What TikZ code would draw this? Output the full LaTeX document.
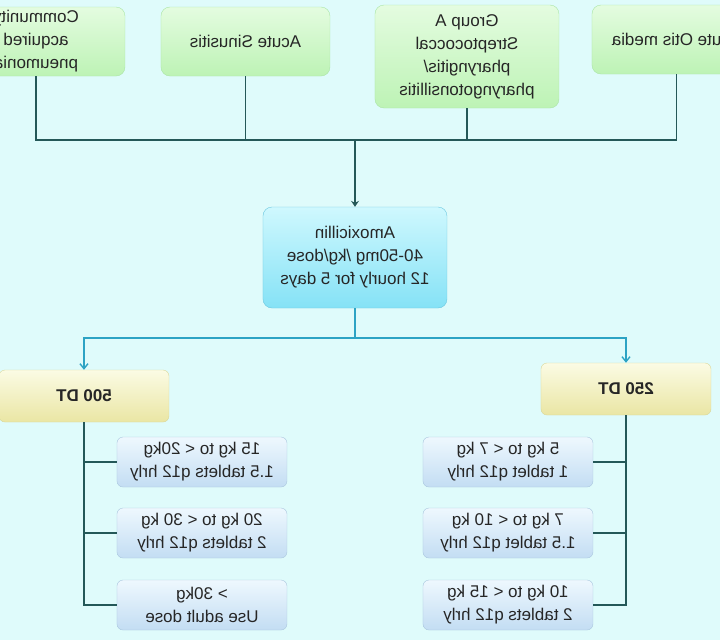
\documentclass[tikz,border=0pt]{standalone}
\usepackage{fontspec}
\setmainfont{Liberation Sans}
\usepackage{xcolor}
\usepackage{tikz}
\usetikzlibrary{arrows.meta}
\definecolor{BgCyan}{HTML}{DFFBFB}
\definecolor{GEdge}{HTML}{ABE5A6}
\definecolor{GTop}{HTML}{E4FCE0}
\definecolor{GBot}{HTML}{BDF3B5}
\definecolor{CEdge}{HTML}{6CC8E0}
\definecolor{CTop}{HTML}{CFF8FE}
\definecolor{CBot}{HTML}{85E2F6}
\definecolor{YEdge}{HTML}{D9D79A}
\definecolor{YTop}{HTML}{FBFBE4}
\definecolor{YBot}{HTML}{EAE6A4}
\definecolor{BEdge}{HTML}{A9C6DE}
\definecolor{BTop}{HTML}{EEF8FE}
\definecolor{BBot}{HTML}{C3DDF3}
\definecolor{LDark}{HTML}{245858}
\definecolor{LCyan}{HTML}{2CA3C4}

\begin{document}
\begin{tikzpicture}[x=1pt,y=-1pt,xscale=-1,transform shape,
  every node/.style={font=\fontsize{17}{23}\selectfont,text=black!85},
  sym/.style={draw=GEdge,rounded corners=9pt,top color=GTop,bottom color=GBot,
    minimum width=169pt,minimum height=69pt,align=center},
  drug/.style={draw=CEdge,rounded corners=9pt,top color=CTop,bottom color=CBot,
    minimum width=184pt,minimum height=101pt,align=center},
  dose/.style={draw=YEdge,rounded corners=6pt,top color=YTop,bottom color=YBot,
    minimum width=170pt,minimum height=52pt,align=center,
    font=\fontsize{17}{23}\selectfont\bfseries},
  wt/.style={draw=BEdge,rounded corners=6pt,top color=BTop,bottom color=BBot,
    minimum width=170pt,minimum height=50pt,align=center},
  ln/.style={line width=1.8pt,color=LDark},
  lnc/.style={line width=1.4pt,color=LCyan},
  arr/.style={ln,-{Stealth[length=6pt,width=8pt]}},
  arrc/.style={lnc,-{Straight Barb[length=5pt,width=8pt]}}
]
  \path[use as bounding box,fill=BgCyan] (0,0) rectangle (720,640);
  % indications
  \node[sym] (otis) at (43.5,39.5) {Acute Otis media};
  \node[sym,minimum width=184pt,minimum height=103pt] (strep) at (253,56.5)
    {Group A\\Streptococcal\\pharyngitis/\\pharyngotonsillitis};
  \node[sym] (sinus) at (474.5,41.5) {Acute Sinusitis};
  \node[sym,minimum width=178pt] (cap) at (684,41.5) {Community\\acquired\\pneumonia};
  % drug
  \node[drug] (amox) at (365,257.5) {Amoxicillin\\40-50mg /kg/dose\\12 hourly for 5 days};
  % tablets
  \node[dose] (d250) at (94,389) {250 DT};
  \node[dose] (d500) at (636,396) {500 DT};
  \node[wt] (k5) at (212,462) {5 kg to < 7 kg\\1 tablet q12 hrly};
  \node[wt] (k7) at (212,533) {7 kg to < 10 kg\\1.5 tablet q12 hrly};
  \node[wt] (k10) at (212,605) {10 kg to < 15 kg\\2 tablets q12 hrly};
  \node[wt] (k15) at (518,462) {15 kg to < 20kg\\1.5 tablets q12 hrly};
  \node[wt] (k20) at (518,533) {20 kg to < 30 kg\\2 tablets q12 hrly};
  \node[wt] (k30) at (518,605) {> 30kg\\Use adult dose};
  % connectors
  \coordinate (bus) at (365,140);
  \coordinate (fork) at (365,338);
  \foreach \t in {otis,cap}
    {\draw[ln] (\t.south) |- (bus);}
  \foreach \t in {strep,sinus}
    {\draw[ln] (\t.south) -- (\t.south |- bus);}
  \draw[arr] (bus) -- (amox.north);
  \draw[lnc] (amox.south) -- (fork);
  \foreach \d in {d250,d500}
    {\draw[arrc] (fork) -| (\d.north);}
  \foreach \k in {k5,k7,k10}
    {\draw[ln] (d250.south) |- (\k.west);}
  \foreach \k in {k15,k20,k30}
    {\draw[ln] (d500.south) |- (\k.east);}
\end{tikzpicture}
\end{document}
